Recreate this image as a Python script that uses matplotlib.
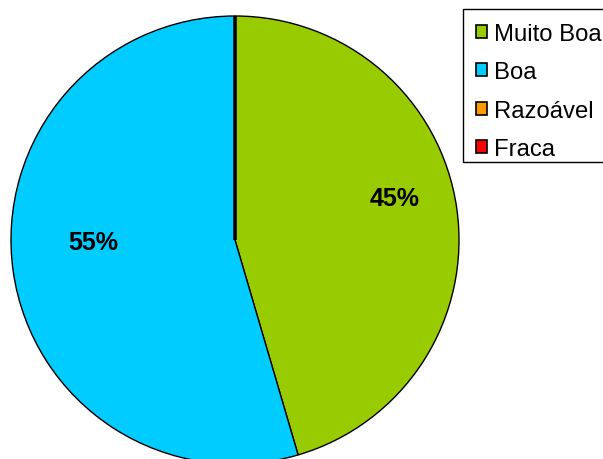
import matplotlib
matplotlib.use('Agg')
import matplotlib.pyplot as plt
from matplotlib.patches import Rectangle

## Data ##
categories = ['Muito Boa', 'Boa', 'Razoável', 'Fraca']
values = [10, 12, 0, 0]
colors = ['#99CC00', '#00CCFF', '#FF9900', '#FF0000']

plt.rcParams['font.family'] = ['Liberation Sans', 'DejaVu Sans']

## Figure ##
fig = plt.figure(figsize=(6.03, 4.60), dpi=100)
W, H = 603, 460
ax = fig.add_axes([11 / W, -5 / H, 448 / W, 448 / H])

def pct(p):
    return '%.0f%%' % p if p > 0 else ''

wedges, texts, autotexts = ax.pie(
    values, colors=colors, startangle=90, counterclock=False,
    autopct=pct, pctdistance=0.68,
    wedgeprops=dict(edgecolor='black', linewidth=1.0),
    textprops=dict(fontsize=18, fontweight='bold', color='black'))

# nudge percentage labels up a little, like the original
for t in autotexts:
    x, y = t.get_position()
    t.set_position((x + 0.04, y + 0.09))

ax.set_xlim(-1, 1)
ax.set_ylim(-1, 1)
ax.set_aspect('auto')
for w, v in zip(wedges, values):
    w.set_clip_on(False)
    if v == 0:
        w.set_linewidth(2.2)

## Legend ##
leg = fig.legend(wedges, categories, loc='upper left',
                 bbox_to_anchor=(463 / W, 1 - 11 / H),
                 fontsize=17.2, frameon=False,
                 handlelength=0.45, handleheight=0.45, handletextpad=0.3,
                 labelspacing=0.68, borderpad=0.55, borderaxespad=0)
for h in leg.legend_handles:
    h.set_edgecolor('black')
    h.set_linewidth(1.2)

# legend box (runs off the right edge like the original)
fig.patches.append(Rectangle((463 / W, 1 - 163 / H), 160 / W, 153 / H,
                             transform=fig.transFigure, fill=False,
                             edgecolor='black', linewidth=1.0, zorder=5))

fig.savefig('out.png', dpi=100)
